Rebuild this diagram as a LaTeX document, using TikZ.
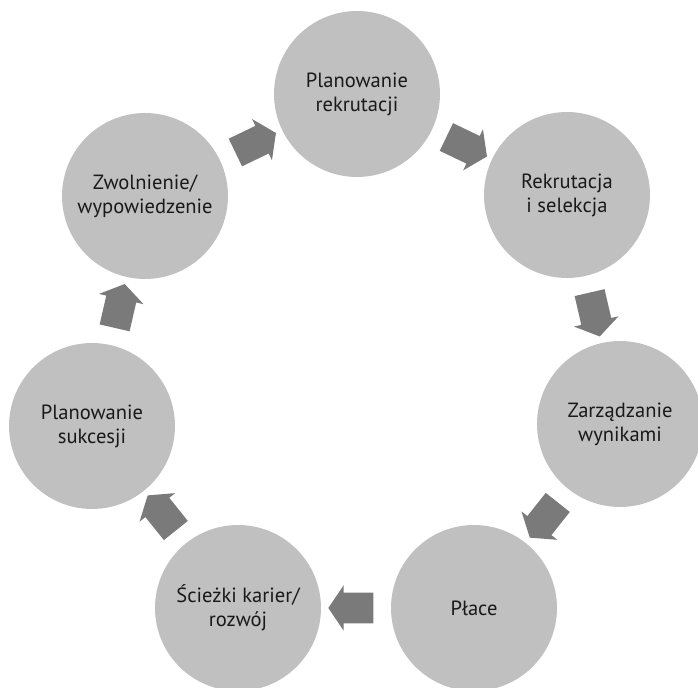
\documentclass[tikz,border=0pt]{standalone}
\usepackage{fontspec}
\setmainfont{PT Sans}
\usetikzlibrary{shapes.arrows}

\definecolor{kolo}{RGB}{192,192,192}
\definecolor{strzalka}{RGB}{122,122,122}

\begin{document}
\begin{tikzpicture}[x=0.02cm,y=-0.02cm,
    etap/.style={circle,fill=kolo,minimum size=3.32cm,inner sep=0pt,align=center,
      font=\fontsize{11.7}{13.7}\selectfont,text=black!90},
    every edge/.style={draw=none},
    krok/.style={single arrow,fill=strzalka,minimum height=0.9cm,
      inner xsep=0pt,inner ysep=0.3cm,
      single arrow head extend=0.15cm,single arrow tip angle=112,
      sloped,allow upside down}]
      \useasboundingbox (0,0) rectangle (698,688);

      \node[etap] (e1) at (357,94) {Planowanie\\rekrutacji};
      \node[etap] (e2) at (567,195) {Rekrutacja\\i selekcja};
      \node[etap] (e3) at (620,424) {Zarządzanie\\wynikami};
      \node[etap] (e4) at (474,608) {Płace};
      \node[etap] (e5) at (238,608) {Ścieżki karier/\\rozwój};
      \node[etap] (e6) at (92,426) {Planowanie\\sukcesji};
      \node[etap] (e7) at (145,196) {Zwolnienie/\\wypowiedzenie};

      \path
        (e1) edge node[krok]{} (e2)
        (e2) edge node[krok]{} (e3)
        (e3) edge node[krok]{} (e4)
        (e4) edge node[krok]{} (e5)
        (e5) edge node[krok]{} (e6)
        (e6) edge node[krok]{} (e7)
        (e7) edge node[krok]{} (e1)
      ;

    \end{tikzpicture}
\end{document}
